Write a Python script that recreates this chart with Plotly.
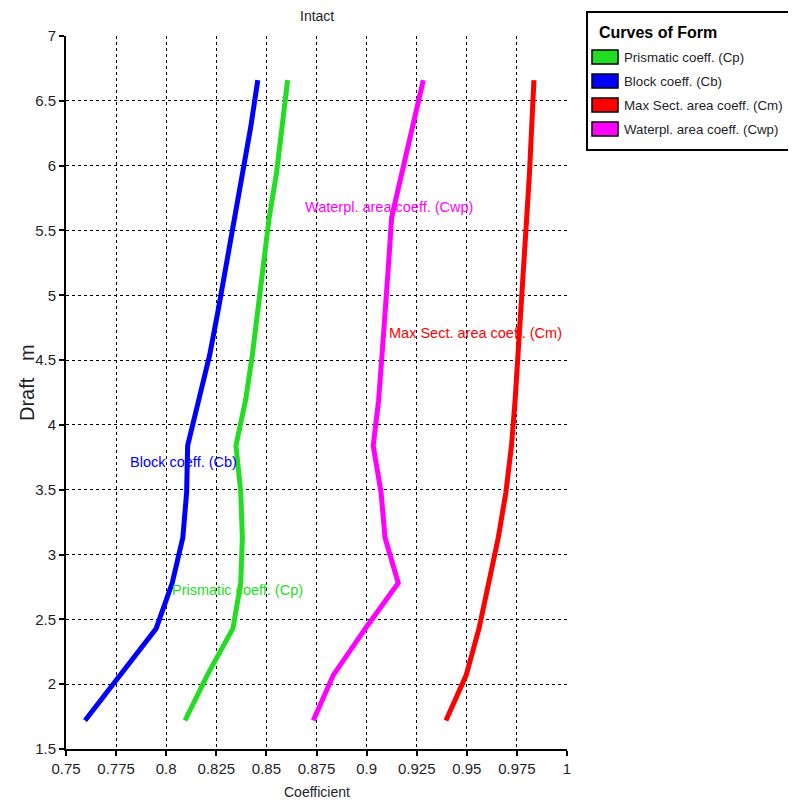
import plotly.graph_objects as go

# ---------------- data ----------------
draft = [1.72, 2.07, 2.43, 2.78, 3.13, 3.48, 3.84, 4.19, 4.54, 4.89, 5.25, 5.60, 5.95, 6.30, 6.66]

cp = [0.8094, 0.8205, 0.8333, 0.8372, 0.8380, 0.8372, 0.8348, 0.8396, 0.8430, 0.8459,
      0.8486, 0.8514, 0.8551, 0.8580, 0.8606]
cb = [0.7595, 0.7770, 0.7950, 0.8030, 0.8083, 0.8102, 0.8107, 0.8162, 0.8217, 0.8260,
      0.8302, 0.8341, 0.8380, 0.8422, 0.8457]
cm = [0.9396, 0.9497, 0.9561, 0.9612, 0.9657, 0.9695, 0.9723, 0.9741, 0.9754, 0.9769,
      0.9785, 0.9799, 0.9813, 0.9823, 0.9835]
cwp = [0.8734, 0.8834, 0.8994, 0.9158, 0.9092, 0.9072, 0.9033, 0.9060, 0.9077, 0.9095,
       0.9110, 0.9125, 0.9177, 0.9229, 0.9283]

series_names = ["Prismatic coeff. (Cp)", "Block coeff. (Cb)",
                "Max Sect. area coeff. (Cm)", "Waterpl. area coeff. (Cwp)"]
series_values = [cp, cb, cm, cwp]
series_colors = ["#22dd22", "#0000ff", "#ff0000", "#ff00ff"]

# in-plot labels: (text, x, y) in data units
label_texts = ["Prismatic coeff. (Cp)", "Block coeff. (Cb)",
               "Max Sect. area coeff. (Cm)", "Waterpl. area coeff. (Cwp)"]
label_x = [0.8030, 0.7819, 0.9112, 0.8693]
label_y = [2.725, 3.715, 4.706, 5.683]

x_tickvals = [0.75, 0.775, 0.8, 0.825, 0.85, 0.875, 0.9, 0.925, 0.95, 0.975, 1.0]
x_ticktext = ["0.75", "0.775", "0.8", "0.825", "0.85", "0.875", "0.9", "0.925", "0.95", "0.975", "1"]
y_tickvals = [1.5, 2, 2.5, 3, 3.5, 4, 4.5, 5, 5.5, 6, 6.5, 7]
y_ticktext = ["1.5", "2", "2.5", "3", "3.5", "4", "4.5", "5", "5.5", "6", "6.5", "7"]

chart_title = "Intact"
x_title = "Coefficient"
y_title = "Draft\u00a0\u00a0\u00a0m"
legend_title = "Curves of Form"

# ---------------- layout constants ----------------
OFF = 8                      # default body margin of the html page
W, H = 796 - OFF, 804 - OFF
PL, PT, PW, PH = 66, 36, 501, 713   # plot area in page pixels
ML, MT = PL - OFF, PT - OFF
MR = W - ML - PW
MB = H - MT - PH
FONT = "Liberation Sans, Arial, sans-serif"
TXT = "#1e1e28"


def px_x(px):
    return (px - PL) / PW


def px_y(py):
    return (PT + PH - py) / PH


fig = go.Figure()
for name, vals, col in zip(series_names, series_values, series_colors):
    fig.add_trace(go.Scatter(x=vals, y=draft, mode="lines", name=name,
                             line=dict(color=col, width=5), showlegend=False))

annotations = []
for t, x, y, col in zip(label_texts, label_x, label_y, series_colors):
    annotations.append(dict(x=x, y=y, xref="x", yref="y", text=t, showarrow=False,
                            xanchor="left", yanchor="middle", xshift=-2,
                            font=dict(family=FONT, size=14.5, color=col)))

# title and axis titles
annotations.append(dict(x=0.5, y=px_y(16), xref="paper", yref="paper", text=chart_title,
                        showarrow=False, xanchor="center", yanchor="middle",
                        font=dict(family=FONT, size=14, color=TXT)))
annotations.append(dict(x=0.5, y=px_y(792), xref="paper", yref="paper", text=x_title,
                        showarrow=False, xanchor="center", yanchor="middle",
                        font=dict(family=FONT, size=14, color=TXT)))
annotations.append(dict(x=px_x(27), y=px_y(383), xref="paper", yref="paper", text=y_title,
                        showarrow=False, xanchor="center", yanchor="middle", textangle=-90,
                        font=dict(family=FONT, size=20, color=TXT)))

# manual legend
shapes = [dict(type="rect", xref="paper", yref="paper",
               x0=px_x(587), x1=px_x(792), y0=px_y(150), y1=px_y(12),
               line=dict(color="black", width=2), fillcolor="white", layer="above")]
annotations.append(dict(x=px_x(597), y=px_y(33), xref="paper", yref="paper",
                        text="<b>" + legend_title + "</b>",
                        showarrow=False, xanchor="left", yanchor="middle",
                        font=dict(family=FONT, size=16, color="black")))
row_y = [57, 81, 105, 129]
for name, col, ry in zip(series_names, series_colors, row_y):
    shapes.append(dict(type="rect", xref="paper", yref="paper",
                       x0=px_x(592), x1=px_x(618), y0=px_y(ry + 7), y1=px_y(ry - 7),
                       line=dict(color="black", width=1.5), fillcolor=col, layer="above"))
    annotations.append(dict(x=px_x(622), y=px_y(ry), xref="paper", yref="paper", text=name,
                            showarrow=False, xanchor="left", yanchor="middle",
                            font=dict(family=FONT, size=13.3, color=TXT)))

axis_common = dict(showline=True, linecolor="black", linewidth=2, ticks="outside",
                   ticklen=5, tickwidth=2, tickcolor="black", showgrid=True,
                   gridcolor="black", griddash="dot", gridwidth=1.3, zeroline=False,
                   tickfont=dict(family=FONT, size=15, color=TXT), mirror=False)

fig.update_layout(
    width=W, height=H,
    margin=dict(l=ML, r=MR, t=MT, b=MB),
    paper_bgcolor="white", plot_bgcolor="white",
    xaxis=dict(range=[0.75, 1.0], tickvals=x_tickvals, ticktext=x_ticktext, **axis_common),
    yaxis=dict(range=[1.5, 7.0], tickvals=y_tickvals, ticktext=y_ticktext, **axis_common),
    annotations=annotations, shapes=shapes, showlegend=False,
)

fig.write_html("out.html")
